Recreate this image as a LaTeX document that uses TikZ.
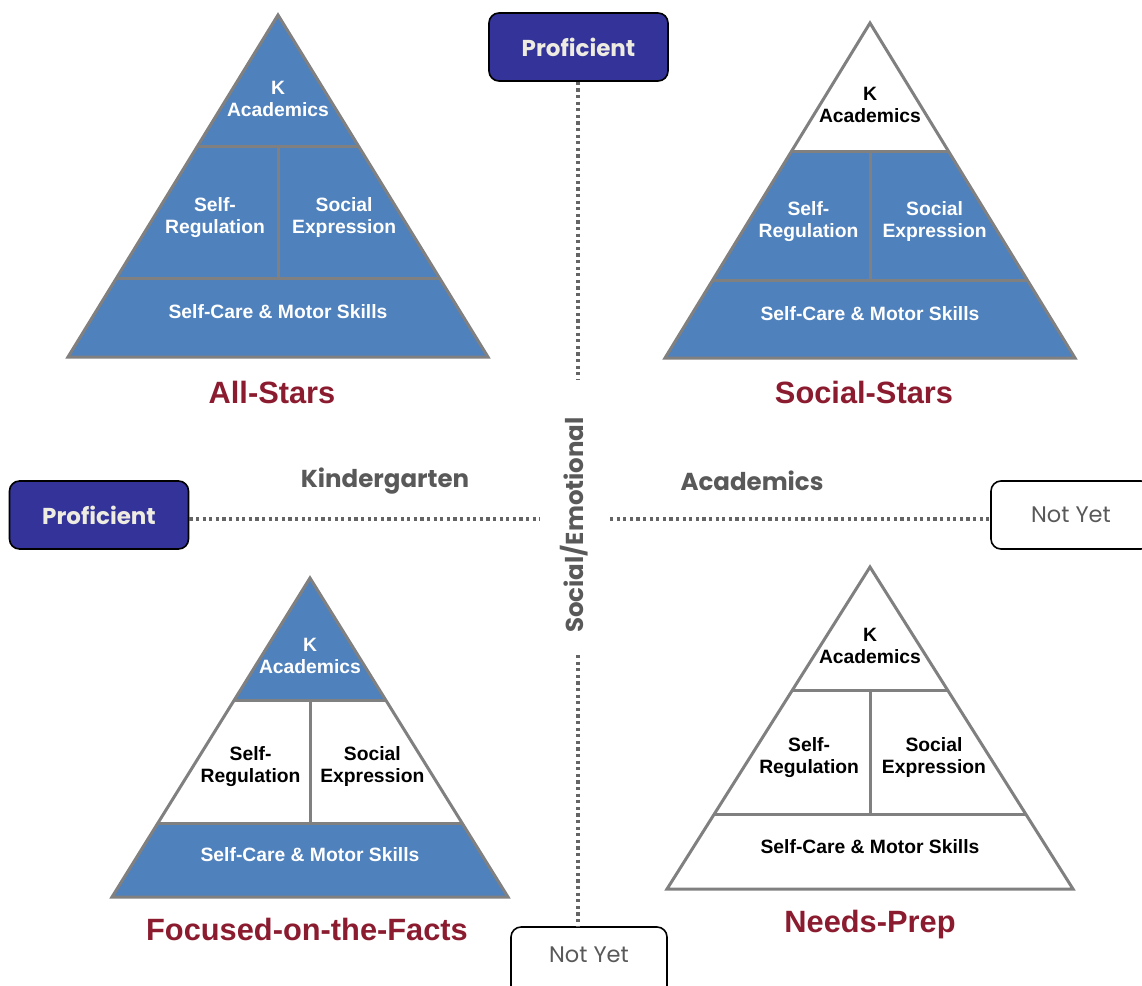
\documentclass[tikz,border=0pt]{standalone}
\usepackage{fontspec}
\setmainfont{Liberation Sans}
\newfontfamily\geofont{Poppins}

\definecolor{pyrblue}{RGB}{79,129,189}
\definecolor{edgegray}{RGB}{128,128,128}
\definecolor{navybox}{RGB}{51,51,153}
\definecolor{boxtext}{RGB}{238,236,225}
\definecolor{axisgray}{RGB}{89,89,89}
\definecolor{labelred}{RGB}{139,28,48}
\definecolor{dotgray}{RGB}{100,100,100}

\tikzset{
  blue area/.style={fill=pyrblue},
  white area/.style={fill=white},
  blue words/.style={text=white},
  white words/.style={text=black},
  edge/.style={draw=edgegray,line width=3pt},
  tier/.style={align=center,inner sep=0pt,
    font=\bfseries\fontsize{19.3}{22}\selectfont},
  group label/.style={text=labelred,inner sep=0pt,
    font=\bfseries\fontsize{30.8}{34}\selectfont},
  navy box/.style={draw=black,line width=1.6pt,rounded corners=10pt,
    fill=navybox,text=boxtext,minimum width=179pt,minimum height=68pt,
    inner sep=0pt,font=\geofont\bfseries\fontsize{23}{26}\selectfont},
  open box/.style={draw=black,line width=1.6pt,rounded corners=10pt,
    fill=white,text=axisgray,minimum height=68pt,
    inner sep=0pt,font=\geofont\fontsize{22.5}{25}\selectfont},
  axis label/.style={text=axisgray,inner sep=0pt,
    font=\geofont\bfseries\fontsize{24.5}{28}\selectfont},
  dotline/.style={draw=dotgray,line width=3.4pt,dash pattern=on 3.2pt off 3.4pt}
}

% #1 name prefix, #2/#3 apex, #4 half base width, #5 height,
% #6 top tier, #7 middle tier, #8 bottom tier (blue or white)
\newcommand\pyramid[8]{%
  \begin{scope}[shift={(#2,#3)},x=#4pt,y=-#5pt]
    \fill[#6 area] (0,0) -- (-.385,.385) -- (.385,.385) -- cycle;
    \fill[#7 area] (-.385,.385) -- (.385,.385) -- (.77,.77) -- (-.77,.77) -- cycle;
    \fill[#8 area] (-.77,.77) -- (.77,.77) -- (1,1) -- (-1,1) -- cycle;
    \draw[edge] (-.385,.385) -- (.385,.385);
    \draw[edge] (-.77,.77) -- (.77,.77);
    \draw[edge] (0,.385) -- (0,.77);
    \draw[edge] (0,0) -- (1,1) -- (-1,1) -- cycle;
    \node[tier,#6 words] (#1-acad) at (0,.245) {K\\Academics};
    \node[tier,#7 words] (#1-selfreg) at (-.30,.592) {Self-\\Regulation};
    \node[tier,#7 words] (#1-social) at (.315,.592) {Social\\Expression};
    \node[tier,#8 words] (#1-care) at (0,.868) {Self-Care \& Motor Skills};
  \end{scope}}

\begin{document}
\begin{tikzpicture}[x=1pt,y=-1pt]
  \useasboundingbox (0,0) rectangle (1142,985);
  \clip (0,0) rectangle (1142,985);

  % the four profiles
  \pyramid{allstars}{278}{15}{210}{342}{blue}{blue}{blue}
  \pyramid{socialstars}{870}{23}{205}{335}{white}{blue}{blue}
  \pyramid{facts}{310}{578}{198}{319}{blue}{white}{blue}
  \pyramid{needsprep}{870}{567}{203}{322}{white}{white}{white}

  \node[group label] (lblAll) at (272,392) {All-Stars};
  \node[group label] (lblSocial) at (864,392) {Social-Stars};
  \node[group label] (lblFacts) at (307,929) {Focused-on-the-Facts};
  \node[group label] (lblNeeds) at (870,925) {Needs-Prep};

  % axis end boxes (the right and lower ones run past the page edge)
  \node[navy box] (profTop) at (578.5,47) {Proficient};
  \node[navy box] (profLeft) at (99,515) {Proficient};
  \node[open box,minimum width=160pt] (notyetRight) at (1071,515) {Not Yet};
  \node[open box,minimum width=156pt,minimum height=70pt,text depth=14pt]
    (notyetBottom) at (589,962) {Not Yet};

  % axis titles
  \node[axis label] (kinder) at (385,481) {Kindergarten};
  \node[axis label] (acadAxis) at (752,481) {Academics};
  \node[axis label,rotate=90] (socemo) at (574,525) {Social/Emotional};

  % dotted axes
  \coordinate (vUpperEnd) at (578,380);
  \coordinate (vLowerStart) at (578,655);
  \coordinate (hLeftEnd) at (540,519);
  \coordinate (hRightStart) at (610,519);
  \draw[dotline] (profTop.south -| vUpperEnd) -- (vUpperEnd);
  \draw[dotline] (vLowerStart) -- (notyetBottom.north -| vLowerStart);
  \draw[dotline] (profLeft.east |- hLeftEnd) -- (hLeftEnd);
  \draw[dotline] (hRightStart) -- (notyetRight.west |- hRightStart);
\end{tikzpicture}
\end{document}
